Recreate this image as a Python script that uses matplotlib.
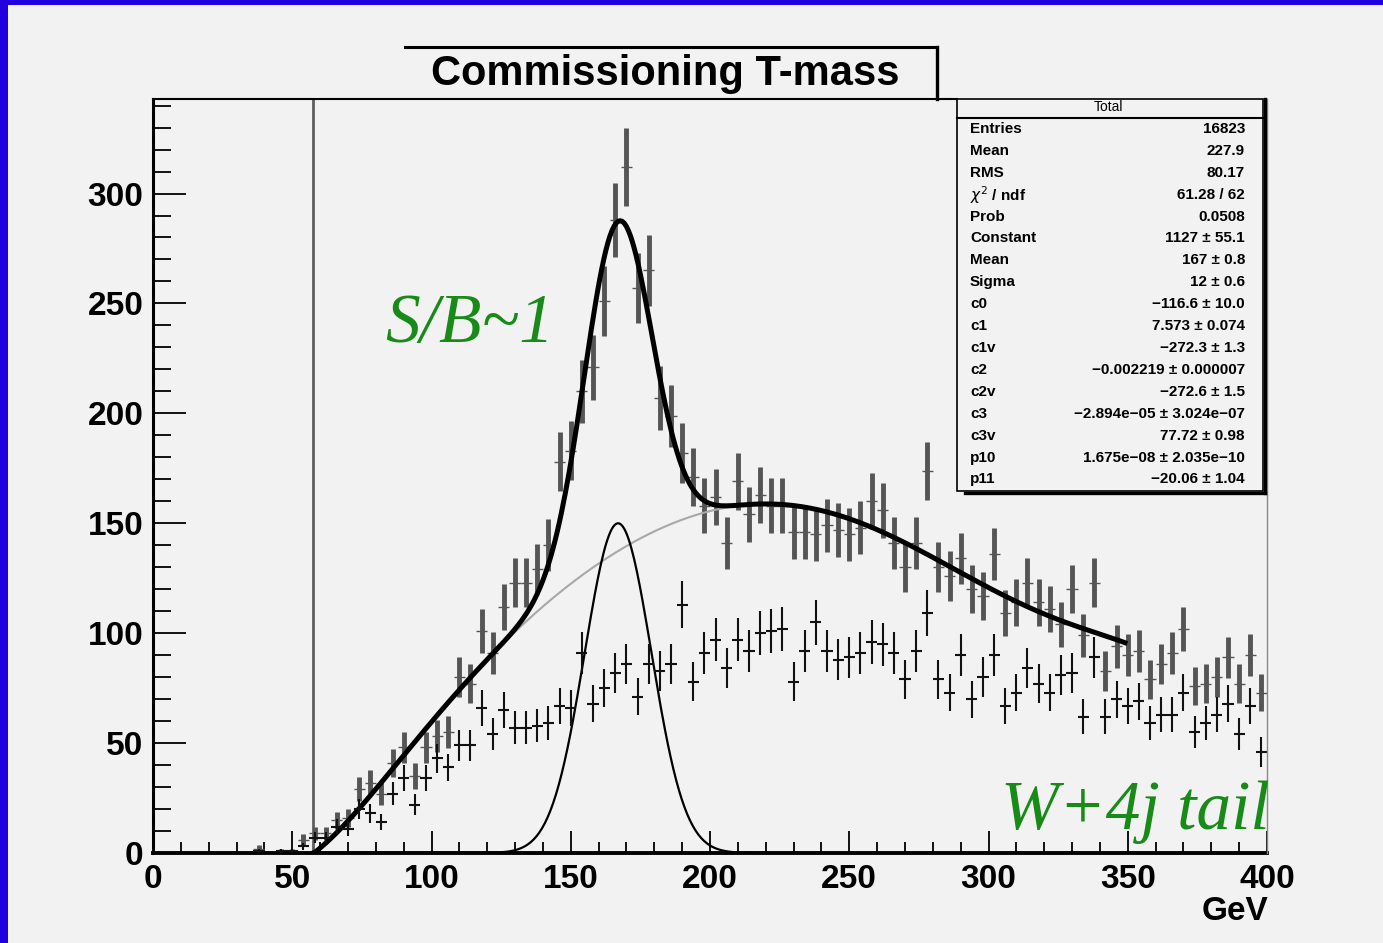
import numpy as np
import matplotlib.pyplot as plt
from matplotlib.patches import Rectangle
from matplotlib.lines import Line2D

W, H = 1383, 943
BG = '#f2f2f2'

# 4 GeV bins from 0 to 400 GeV
bin_edges = np.arange(0, 404, 4)

total_counts = [
    0, 0, 0, 0, 0, 0, 0, 0, 0, 2,
    0, 1, 1, 6, 9, 9, 15, 16, 29, 32,
    27, 41, 48, 35, 48, 53, 55, 80, 77, 101,
    91, 112, 123, 123, 129, 140, 178, 183, 210, 221,
    251, 288, 312, 257, 265, 207, 199, 182, 171, 158,
    162, 141, 169, 154, 163, 158, 158, 146, 146, 145,
    149, 147, 145, 148, 160, 156, 141, 130, 141, 174,
    130, 126, 134, 120, 117, 136, 109, 114, 123, 114,
    111, 104, 120, 99, 123, 83, 94, 90, 92, 79,
    86, 91, 102, 76, 77, 80, 89, 77, 90, 73,
]

w4j_counts = [
    0, 0, 0, 0, 0, 0, 0, 0, 0, 1,
    0, 1, 1, 3, 7, 7, 12, 11, 20, 18,
    14, 27, 34, 22, 34, 43, 39, 49, 49, 66,
    54, 65, 57, 57, 58, 59, 67, 66, 91, 68,
    75, 82, 86, 71, 86, 83, 86, 113, 78, 91,
    97, 84, 97, 92, 100, 101, 102, 78, 92, 105,
    92, 88, 89, 91, 96, 95, 91, 79, 92, 109,
    79, 73, 90, 70, 80, 90, 67, 73, 84, 77,
    73, 81, 82, 62, 89, 62, 70, 67, 69, 59,
    63, 63, 73, 55, 59, 63, 68, 54, 67, 46,
]

# background shape of the fit, sampled along its curve
bgfit_x = [57.4, 62, 66, 75.5, 85, 95, 100, 110, 120, 130, 142, 159, 169, 183,
           197, 208, 220, 230, 240, 250, 262, 274, 286, 298, 309, 321, 333, 347]
bgfit_y = [0, 4, 9, 23, 37, 51, 59, 75, 89, 101, 113, 131, 139, 147,
           155, 158, 159, 158.5, 156, 152, 145, 138, 130, 123, 116, 108, 101.5, 97]

gauss_height = 150
gauss_mean = 167
gauss_sigma = 12
fit_lo, fit_hi = 57.4, 349

stat_labels = ['Entries', 'Mean', 'RMS', r'$\chi^2$ / ndf', 'Prob', 'Constant', 'Mean',
               'Sigma', 'c0', 'c1', 'c1v', 'c2', 'c2v', 'c3', 'c3v', 'p10', 'p11']
stat_values = ['16823', '227.9', '80.17', '61.28 / 62', '0.0508', '1127 \u00b1 55.1',
               '167 \u00b1 0.8', '12 \u00b1 0.6', '\u2212116.6 \u00b1 10.0',
               '7.573 \u00b1 0.074', '\u2212272.3 \u00b1 1.3',
               '\u22120.002219 \u00b1 0.000007', '\u2212272.6 \u00b1 1.5',
               '\u22122.894e\u221205 \u00b1 3.024e\u221207', '77.72 \u00b1 0.98',
               '1.675e\u221208 \u00b1 2.035e\u221210', '\u221220.06 \u00b1 1.04']

plt.rcParams['font.family'] = ['Liberation Sans', 'DejaVu Sans']


def fx(px):
    return px / W


def fy(py):
    return 1 - py / H


fig = plt.figure(figsize=(W / 100, H / 100), dpi=100, facecolor=BG)
ax = fig.add_axes([fx(153), fy(853), fx(1267) - fx(153), fy(99) - fy(853)])
ax.set_facecolor(BG)
ax.set_xlim(0, 400)
ax.set_ylim(0, 343)

centers = 0.5 * (bin_edges[:-1] + bin_edges[1:])
tot = np.array(total_counts, dtype=float)
w4j = np.array(w4j_counts, dtype=float)

# total sample: heavy grey error bars
m = tot > 0
ax.errorbar(centers[m], tot[m], yerr=np.sqrt(tot[m]), fmt='none',
            ecolor='#555555', elinewidth=3.5, capsize=0, zorder=2)
ax.errorbar(centers[m], tot[m], xerr=2, fmt='none',
            ecolor='#555555', elinewidth=1.0, capsize=0, zorder=2)

# fit curves
coef = np.polynomial.Polynomial.fit(bgfit_x, bgfit_y, 7)
xf = np.linspace(fit_lo, fit_hi, 400)
bg_curve = np.clip(coef(xf), 0, None)
xg = np.linspace(0, 300, 600)
gauss = gauss_height * np.exp(-0.5 * ((xg - gauss_mean) / gauss_sigma) ** 2)
gauss_f = gauss_height * np.exp(-0.5 * ((xf - gauss_mean) / gauss_sigma) ** 2)

ax.plot(xf, bg_curve, color='#a8a8a8', lw=1.5, zorder=3)
ax.plot(xg, gauss, color='black', lw=1.6, zorder=3)
ax.plot(xf, bg_curve + gauss_f, color='black', lw=3.6, zorder=4)

# W+4j sample: thin black crosses
m2 = w4j > 0
ax.errorbar(centers[m2], w4j[m2], xerr=2, yerr=np.sqrt(w4j[m2]), fmt='none',
            ecolor='#111111', elinewidth=1.5, capsize=0, zorder=5)

# fit range boundary
ax.axvline(fit_lo, color='#5e5e5e', lw=2.0, zorder=1)

# axes frame
for s in ['top', 'right']:
    ax.spines[s].set_visible(False)
ax.spines['left'].set_linewidth(2.2)
ax.spines['bottom'].set_linewidth(2.8)
ax.plot([0, (957 - 153) / 1114], [1, 1], transform=ax.transAxes, color='black',
        lw=1.5, clip_on=False, zorder=6)
ax.plot([1, 1], [0, 1], transform=ax.transAxes, color='#8a8a8a', lw=1.0,
        clip_on=False, zorder=6)

ax.set_xticks(np.arange(0, 401, 50))
ax.set_xticks(np.arange(0, 401, 10), minor=True)
ax.set_yticks(np.arange(0, 301, 50))
ax.set_yticks(np.arange(0, 341, 10), minor=True)
ax.tick_params(axis='x', which='major', direction='in', length=16, width=1.3,
               pad=8, labelsize=24)
ax.tick_params(axis='x', which='minor', direction='in', length=8, width=1.3)
ax.tick_params(axis='y', which='major', direction='in', length=24, width=1.3,
               pad=7, labelsize=24)
ax.tick_params(axis='y', which='minor', direction='in', length=13, width=1.3)
for lab in ax.get_xticklabels() + ax.get_yticklabels():
    lab.set_fontweight('bold')

fig.text(fx(1268), fy(911), 'GeV', ha='right', va='center', fontsize=24,
         fontweight='bold')

# title box
fig.add_artist(Line2D([fx(405), fx(937)], [fy(47), fy(47)], color='black', lw=2.2))
fig.add_artist(Line2D([fx(937), fx(937)], [fy(47), fy(99)], color='black', lw=2.4))
fig.text(fx(665), fy(74), 'Commissioning T-mass', ha='center', va='center',
         fontsize=30, fontweight='bold')

# statistics box
fig.add_artist(Rectangle((fx(957), fy(491)), fx(1263) - fx(957), fy(99) - fy(491),
                         facecolor=BG, edgecolor='black', lw=1.2, zorder=7))
fig.add_artist(Line2D([fx(957), fx(1263)], [fy(118), fy(118)], color='black', lw=1.5,
                      zorder=8))
fig.add_artist(Line2D([fx(1265), fx(1265)], [fy(99), fy(493)], color='black', lw=2.4,
                      zorder=8))
fig.add_artist(Line2D([fx(965), fx(1265)], [fy(493), fy(493)], color='black', lw=2.4,
                      zorder=8))
fig.text(fx(1108), fy(107), 'Total', ha='center', va='center', fontsize=10, zorder=9)
row0, dy = 129, 21.9
for i, (lab, val) in enumerate(zip(stat_labels, stat_values)):
    y = fy(row0 + i * dy)
    fig.text(fx(970), y, lab, ha='left', va='center', fontsize=11,
             fontweight='bold', zorder=9)
    fig.text(fx(1245), y, val, ha='right', va='center', fontsize=11,
             fontweight='bold', zorder=9)

# handwritten notes
green = '#178a17'
fig.text(fx(470), fy(325), 'S/B~1', ha='center', va='center', fontsize=50,
         color=green, family='Liberation Serif', style='italic')
fig.text(fx(1135), fy(812), 'W+4j tail', ha='center', va='center', fontsize=50,
         color=green, family='Liberation Serif', style='italic')

# blue screen border
fig.add_artist(Rectangle((0, fy(5)), 1, 5 / H, transform=fig.transFigure,
                         facecolor='#2200dd', edgecolor='none', zorder=10))
fig.add_artist(Rectangle((0, 0), 8 / W, 1, transform=fig.transFigure,
                         facecolor='#2200dd', edgecolor='none', zorder=10))

fig.savefig('out.png', dpi=100, facecolor=BG)
